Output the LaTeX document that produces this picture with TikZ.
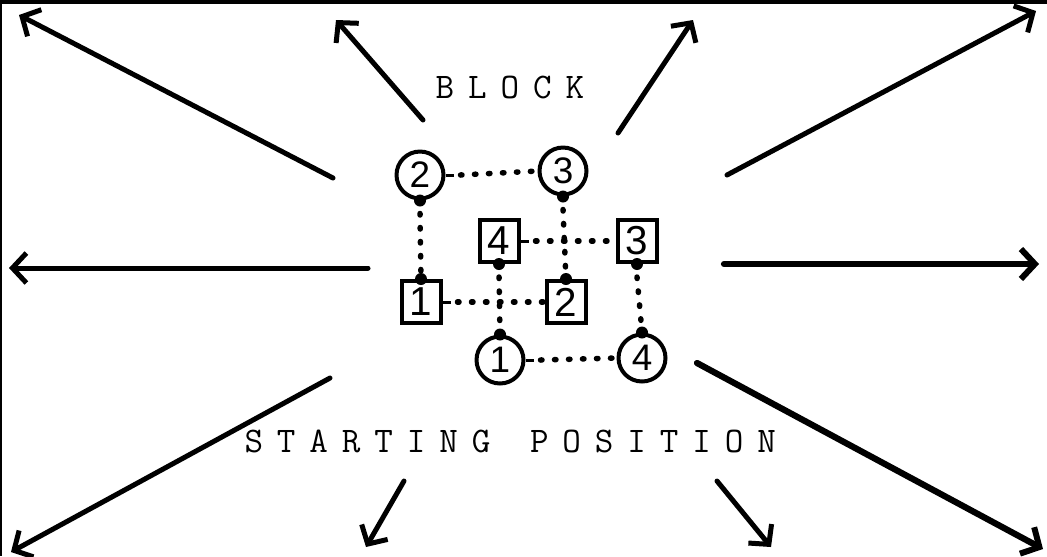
\documentclass[tikz,border=0pt]{standalone}
\usepackage{fontspec}
\newfontfamily\dg{Liberation Sans}
\usetikzlibrary{arrows.meta}
\newcommand{\lb}[1]{\makebox[0.65cm]{#1}}
\tikzset{
  arr/.style={line width=0.1cm, line cap=round, -{Straight Barb[length=0.28cm,width=0.6cm,line width=0.1cm]}},
  bigarr/.style={line width=0.125cm, line cap=round, -{Straight Barb[length=0.28cm,width=0.6cm,line width=0.12cm]}},
  circ/.style={circle, draw, line width=0.08cm, minimum size=0.94cm, inner sep=0pt, font=\dg\fontsize{21}{21}\selectfont},
  sq/.style={rectangle, draw, line width=0.08cm, minimum width=0.78cm, minimum height=0.84cm, inner sep=0pt, font=\dg\fontsize{23}{23}\selectfont},
  dotline/.style={line width=0.11cm, line cap=round, dash pattern=on 0.03cm off 0.25cm},
  stub/.style={line width=0.06cm},
  enddot/.style={fill=black},
  word/.style={inner sep=0pt, font=\ttfamily\fontsize{20.5}{20.5}\selectfont},
  frame/.style={line width=0.08cm},
}
\begin{document}
\begin{tikzpicture}[x=0.02cm, y=-0.02cm]
\useasboundingbox (0,0) rectangle (1047,556);
% frame on top and left
\coordinate (fa) at (0,1.5);
\coordinate (fb) at (1047,1.5);
\coordinate (fc) at (1,0);
\coordinate (fd) at (1,556);
\draw[frame] (fa) -- (fb);
\draw[line width=0.05cm] (fc) -- (fd);

% texts
\node[word] (block) at (510,87) {\lb{B}\lb{L}\lb{O}\lb{C}\lb{K}};
\node[word] (starting) at (367.5,441) {\lb{S}\lb{T}\lb{A}\lb{R}\lb{T}\lb{I}\lb{N}\lb{G}};
\node[word] (position) at (653,441) {\lb{P}\lb{O}\lb{S}\lb{I}\lb{T}\lb{I}\lb{O}\lb{N}};

% markers
\node[circ] (c2) at (420,175) {2};
\node[circ] (c3) at (563,171) {3};
\node[sq] (s4) at (499,241) {4};
\node[sq] (s3) at (637,241) {3};
\node[sq] (s1) at (421,302) {1};
\node[sq] (s2) at (566,302) {2};
\node[circ] (c1) at (500,360) {1};
\node[circ] (c4) at (642,358) {4};

% horizontal dotted links
\draw[stub] (c2.east) -- ++(8,0) coordinate (c2e);
\draw[dotline] (c2e) ++(7,0) -- (c3.west);
\draw[stub] (s4.east) -- ++(8,0) coordinate (s4e);
\draw[dotline] (s4e) ++(7,0) -- (s3.west);
\draw[stub] (s1.east) -- ++(8,0) coordinate (s1e);
\draw[dotline] (s1e) ++(7,0) -- (s2.west);
\draw[stub] (c1.east) -- ++(8,0) coordinate (c1e);
\draw[dotline] (c1e) ++(7,0) -- (c4.west);

% vertical dotted links with end dots
\draw[dotline] (c2.south) ++(0,13) -- (s1.north);
\draw[dotline] (c3.south) ++(0,13) -- (s2.north);
\draw[dotline] (s4.south) ++(0,13) -- (c1.north);
\draw[dotline] (s3.south) ++(0,13) -- (c4.north);
\foreach \n in {c2.south, s1.north, c3.south, s2.north, s4.south, c1.north, s3.south, c4.north}
  \fill[enddot] (\n) circle (0.12cm);

% arrows
\coordinate (t1) at (333,178); \coordinate (h1) at (19,15);
\coordinate (t2) at (423,120); \coordinate (h2) at (336,20);
\coordinate (t3) at (618,133); \coordinate (h3) at (693,20);
\coordinate (t4) at (727,175); \coordinate (h4) at (1036,11);
\coordinate (t5) at (368,268); \coordinate (h5) at (9,268);
\coordinate (t6) at (724,264); \coordinate (h6) at (1039,264);
\coordinate (t7) at (330,378); \coordinate (h7) at (11,552);
\coordinate (t8) at (404,481); \coordinate (h8) at (366,547);
\coordinate (t9) at (717,481); \coordinate (h9) at (771,547);
\coordinate (t10) at (697,363); \coordinate (h10) at (1043,549);
\draw[arr] (t1) -- (h1);
\draw[arr] (t2) -- (h2);
\draw[arr] (t3) -- (h3);
\draw[arr] (t4) -- (h4);
\draw[arr] (t5) -- (h5);
\draw[bigarr] (t6) -- (h6);
\draw[arr] (t7) -- (h7);
\draw[arr] (t8) -- (h8);
\draw[arr] (t9) -- (h9);
\draw[bigarr] (t10) -- (h10);
\end{tikzpicture}
\end{document}
